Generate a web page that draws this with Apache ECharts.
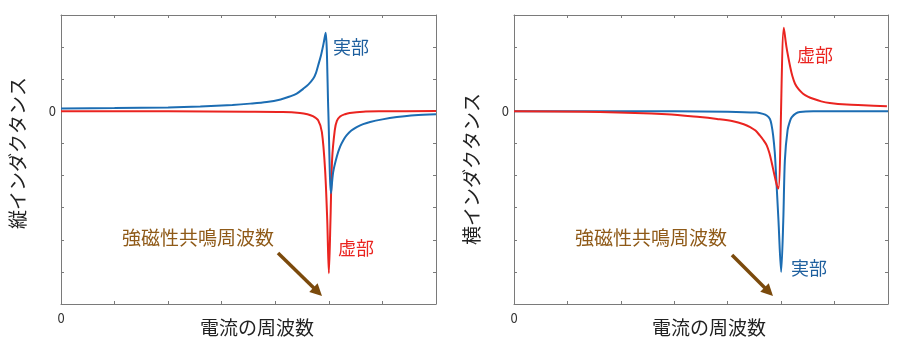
<!DOCTYPE html>
<html>
<head>
<meta charset="utf-8">
<script src="https://cdn.jsdelivr.net/npm/echarts@6/dist/echarts.min.js"></script>
<style>
html,body{margin:0;padding:0;background:#fff;}
#chart{width:900px;height:346px;}
</style>
</head>
<body>
<div id="chart"></div>
<script>
// ---- data (x: frequency, y: inductance) ----
var xTickLabels = ['0'];
var yTickLabels = ['0'];

var leftReal = [[0,0.09],[1,0.1],[2,0.12],[2.6,0.15],[3.2,0.2],[3.53,0.24],[3.84,0.29],[4.1,0.37],[4.27,0.46],[4.4,0.55],[4.52,0.7],[4.62,0.84],[4.71,1.02],[4.76,1.2],[4.8,1.43],[4.85,1.72],[4.9,2.1],[4.94,2.45],[4.99,0],[5.04,-2.55],[5.08,-1.9],[5.15,-1.4],[5.21,-1.1],[5.27,-0.9],[5.33,-0.75],[5.42,-0.6],[5.52,-0.49],[5.64,-0.4],[5.77,-0.33],[6.0,-0.25],[6.27,-0.18],[6.6,-0.12],[7,-0.09]];
var leftImag = [[0,0],[2,0],[3.5,-0.01],[4.14,-0.02],[4.46,-0.05],[4.6,-0.09],[4.7,-0.15],[4.8,-0.28],[4.87,-0.65],[4.93,-1.83],[4.97,-3.4],[5.0,-5.04],[5.03,-3.4],[5.06,-1.52],[5.11,-0.59],[5.15,-0.3],[5.21,-0.16],[5.3,-0.09],[5.39,-0.05],[5.64,-0.01],[6,0],[7,0.01]];
var rightReal = [[0,0],[3,0],[4.0,-0.01],[4.54,-0.04],[4.66,-0.08],[4.73,-0.13],[4.79,-0.24],[4.82,-0.42],[4.85,-0.75],[4.88,-1.26],[4.9,-1.83],[4.95,-3.4],[5.0,-5.0],[5.04,-3.4],[5.07,-1.52],[5.12,-0.59],[5.17,-0.28],[5.2,-0.18],[5.27,-0.07],[5.35,-0.02],[5.6,0],[7,0]];
var rightImag = [[0,0],[1.61,-0.02],[2.86,-0.09],[3.48,-0.18],[3.8,-0.24],[4.1,-0.31],[4.3,-0.4],[4.42,-0.49],[4.52,-0.6],[4.6,-0.75],[4.67,-0.9],[4.73,-1.06],[4.78,-1.3],[4.82,-1.57],[4.87,-1.95],[4.92,-2.3],[4.95,-2.4],[5.05,2.6],[5.1,2.0],[5.17,1.38],[5.21,1.1],[5.26,0.86],[5.33,0.68],[5.41,0.55],[5.5,0.46],[5.6,0.39],[5.75,0.31],[5.91,0.26],[6.23,0.21],[6.54,0.19],[6.98,0.16]];

var BLUE = '#1c6db3', RED = '#ea2420', BROWN = '#8f5a18', ARROW = '#7b4a0c';
var FONT = '"Noto Sans CJK JP", "Noto Sans", sans-serif';
var AXC = '#7a7a7a';

function xAx(grid, pos) {
  return {
    type: 'value', gridIndex: grid, position: pos, min: 0, max: 7, interval: 1,
    axisLine: {show: true, onZero: false, lineStyle: {color: AXC, width: 1}},
    axisTick: {show: true, inside: true, length: 3, lineStyle: {color: AXC}},
    splitLine: {show: false},
    axisLabel: {show: pos === 'bottom', margin: 8, color: '#333', fontSize: 13, fontFamily: FONT,
      formatter: function (v) { return v === 0 ? xTickLabels[0] : ''; }}
  };
}
function yAx(grid, pos) {
  return {
    type: 'value', gridIndex: grid, position: pos, min: -6, max: 3, interval: 1,
    axisLine: {show: true, onZero: false, lineStyle: {color: AXC, width: 1}},
    axisTick: {show: true, inside: true, length: 3, lineStyle: {color: AXC}},
    splitLine: {show: false},
    axisLabel: {show: pos === 'left', margin: 5, color: '#333', fontSize: 13, fontFamily: FONT,
      formatter: function (v) { return v === 0 ? yTickLabels[0] : ''; }}
  };
}
function line(data, color, xi, yi) {
  return {type: 'line', data: data, xAxisIndex: xi, yAxisIndex: yi, showSymbol: false, smooth: 0.3,
    lineStyle: {color: color, width: 2}, itemStyle: {color: color}, animation: false, z: 3};
}
function txt(t, x, y, color, size, rot) {
  return {type: 'text', x: x, y: y, rotation: rot || 0, z: 10,
    style: {text: t, x: 0, y: 0, fill: color, fontSize: size, fontFamily: FONT, align: 'center', verticalAlign: 'middle'}};
}
function arrow(x1, y1, x2, y2) {
  var dx = x2 - x1, dy = y2 - y1, L = Math.sqrt(dx*dx + dy*dy);
  var ux = dx / L, uy = dy / L, nx = -uy, ny = ux;
  var hl = 12, hw = 6;
  var bx = x2 - hl * ux, by = y2 - hl * uy;
  return [
    {type: 'line', z: 10, shape: {x1: x1, y1: y1, x2: bx + ux, y2: by + uy}, style: {stroke: ARROW, lineWidth: 3.5}},
    {type: 'polygon', z: 10, shape: {points: [[x2, y2], [bx + hw*nx, by + hw*ny], [bx - hw*nx, by - hw*ny]]}, style: {fill: ARROW}}
  ];
}

var chart = echarts.init(document.getElementById('chart'));
var option = {
  backgroundColor: '#fff',
  animation: false,
  grid: [
    {left: 61, top: 15, width: 375, height: 289},
    {left: 514, top: 15, width: 374, height: 289}
  ],
  xAxis: [xAx(0, 'bottom'), xAx(0, 'top'), xAx(1, 'bottom'), xAx(1, 'top')],
  yAxis: [yAx(0, 'left'), yAx(0, 'right'), yAx(1, 'left'), yAx(1, 'right')],
  series: [
    line(leftImag, RED, 0, 0),
    line(leftReal, BLUE, 0, 0),
    line(rightReal, BLUE, 2, 2),
    line(rightImag, RED, 2, 2)
  ],
  graphic: [
    txt('縦インダクタンス', 18, 153, '#222', 19, Math.PI / 2),
    txt('横インダクタンス', 472, 169, '#222', 19, Math.PI / 2),
    txt('電流の周波数', 257, 328, '#222', 19),
    txt('電流の周波数', 709, 328, '#222', 19),
    txt('強磁性共鳴周波数', 198, 238, BROWN, 19),
    txt('強磁性共鳴周波数', 651, 238, BROWN, 19),
    txt('実部', 351, 47, '#1e5f9e', 18),
    txt('虚部', 356, 248, RED, 18),
    txt('虚部', 815, 55, RED, 18),
    txt('実部', 809, 268, '#1e5f9e', 18)
  ].concat(arrow(278, 253, 322, 296)).concat(arrow(732, 255, 773, 296))
};
chart.setOption(option);
</script>
</body>
</html>
